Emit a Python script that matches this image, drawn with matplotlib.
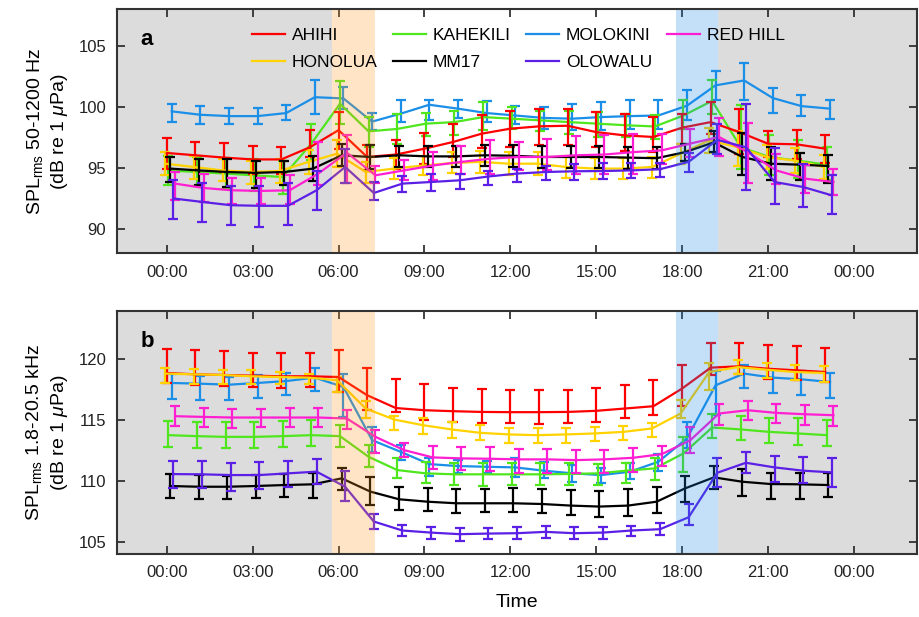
import numpy as np
import matplotlib
matplotlib.use("Agg")
import matplotlib.pyplot as plt
from matplotlib.lines import Line2D

plt.rcParams['font.family'] = ['Liberation Sans', 'DejaVu Sans']
plt.rcParams['mathtext.fontset'] = 'custom'
plt.rcParams['mathtext.rm'] = 'Liberation Sans'
plt.rcParams['mathtext.it'] = 'Liberation Sans:italic'

# ---------------- data ----------------
hours = list(range(24))
sites = ["AHIHI", "HONOLUA", "KAHEKILI", "MM17", "MOLOKINI", "OLOWALU", "RED HILL"]
xtick_labels = ["00:00", "03:00", "06:00", "09:00", "12:00", "15:00", "18:00", "21:00", "00:00"]
dawn = [5.77, 7.27]
dusk = [17.8, 19.27]

# Panel a: 50-1200 Hz  (mean, upper end of bar, lower end of bar)
a_ahihi = [96.23, 96.04, 95.85, 95.7, 95.7, 96.7, 98.1, 95.9, 96.1, 96.58, 97.13, 97.81, 98.22, 98.41, 98.46, 97.94, 97.67, 97.54, 98.3, 98.76, 97.94, 96.99, 96.94, 96.58]
a_ahihi_hi = [97.45, 97.13, 97.05, 96.77, 96.72, 98.08, 99.58, 96.85, 97.3, 97.9, 98.6, 99.3, 99.7, 99.85, 99.8, 99.6, 99.45, 99.2, 99.4, 100.4, 99.85, 98.0, 98.08, 97.73]
a_ahihi_lo = [94.94, 94.81, 94.67, 94.54, 94.54, 95.9, 96.58, 94.81, 94.95, 95.3, 95.9, 96.6, 96.7, 96.85, 96.9, 96.7, 96.4, 96.3, 97.0, 97.8, 96.17, 95.9, 95.76, 95.44]

a_honolua = [95.35, 95.08, 94.8, 94.67, 94.75, 95.5, 96.17, 94.67, 94.95, 95.2, 95.4, 95.5, 95.35, 95.35, 95.08, 94.95, 94.95, 95.08, 96.17, 97.26, 96.7, 95.9, 95.6, 95.08]
a_honolua_hi = [96.3, 96.0, 95.7, 95.6, 95.7, 96.5, 97.3, 95.5, 95.8, 96.0, 96.3, 96.4, 96.3, 96.3, 96.0, 95.8, 95.8, 95.9, 97.0, 98.3, 98.0, 96.9, 96.6, 96.1]
a_honolua_lo = [94.4, 94.1, 93.9, 93.7, 93.8, 94.5, 95.1, 93.8, 94.1, 94.4, 94.6, 94.6, 94.4, 94.4, 94.2, 94.1, 94.1, 94.2, 95.3, 96.2, 95.2, 94.9, 94.6, 94.1]

a_kahekili = [94.8, 94.67, 94.54, 94.4, 94.26, 97.0, 100.26, 98.0, 98.2, 98.63, 98.76, 99.17, 99.04, 98.9, 98.76, 98.63, 98.5, 98.4, 99.3, 100.5, 96.7, 95.9, 95.6, 95.27]
a_kahekili_hi = [96.0, 95.9, 95.8, 95.7, 95.6, 98.63, 102.09, 99.17, 99.4, 99.5, 99.7, 100.4, 100.0, 99.7, 99.7, 99.6, 99.4, 99.3, 100.6, 102.2, 100.2, 97.7, 97.3, 96.7]
a_kahekili_lo = [93.6, 93.5, 93.3, 93.1, 92.9, 95.63, 98.63, 96.72, 97.0, 97.6, 97.7, 98.1, 98.2, 98.0, 97.8, 97.5, 97.5, 97.4, 98.2, 99.4, 94.9, 94.4, 94.2, 94.0]

a_mm17 = [94.95, 94.8, 94.67, 94.6, 94.67, 94.95, 96.04, 95.9, 96.04, 95.95, 95.95, 96.04, 96.0, 95.9, 95.9, 95.9, 95.85, 95.8, 96.3, 97.1, 95.9, 95.35, 95.27, 95.16]
a_mm17_hi = [95.9, 95.75, 95.7, 95.55, 95.6, 96.0, 97.0, 96.9, 96.8, 96.8, 96.8, 96.9, 96.9, 96.8, 96.8, 96.8, 96.75, 96.7, 97.0, 98.0, 97.9, 96.7, 96.2, 96.1]
a_mm17_lo = [93.85, 93.6, 93.45, 93.35, 93.6, 93.9, 95.2, 94.9, 95.1, 95.1, 95.1, 95.2, 95.1, 95.0, 95.0, 95.0, 94.95, 94.9, 95.6, 96.3, 94.4, 94.0, 94.0, 93.8]

a_molokini = [99.64, 99.36, 99.25, 99.25, 99.5, 100.8, 100.7, 98.8, 99.45, 100.18, 99.86, 99.5, 99.3, 99.1, 99.04, 99.17, 99.25, 99.3, 100.1, 101.77, 102.17, 100.73, 100.07, 99.86]
a_molokini_hi = [100.26, 100.05, 99.9, 99.9, 100.18, 102.17, 101.63, 99.5, 100.54, 100.59, 100.54, 100.48, 100.05, 99.99, 100.21, 100.4, 100.54, 100.59, 101.35, 102.91, 103.59, 101.57, 100.95, 100.59]
a_molokini_lo = [98.76, 98.57, 98.63, 98.63, 98.9, 99.45, 99.85, 98.08, 98.76, 98.96, 99.12, 98.76, 98.57, 98.22, 98.08, 98.08, 98.22, 98.22, 98.9, 100.59, 100.54, 99.5, 99.23, 98.98]

a_olowalu = [92.5, 92.22, 91.95, 91.9, 91.9, 93.17, 95.08, 92.95, 93.72, 93.85, 93.99, 94.3, 94.54, 94.67, 94.73, 94.75, 94.8, 94.9, 95.5, 97.3, 96.7, 93.85, 93.44, 92.76]
a_olowalu_hi = [93.99, 93.77, 93.5, 93.5, 93.77, 94.75, 96.58, 93.85, 94.32, 94.54, 94.54, 94.75, 94.94, 95.16, 95.35, 95.41, 95.41, 95.41, 96.23, 98.63, 100.26, 96.64, 95.35, 94.4]
a_olowalu_lo = [90.85, 90.58, 90.31, 90.17, 90.31, 91.59, 93.77, 92.35, 93.04, 93.12, 93.31, 93.58, 93.85, 93.99, 94.04, 94.13, 94.21, 94.26, 94.67, 96.17, 93.17, 92.08, 91.81, 91.26]

a_redhill = [93.72, 93.36, 93.17, 93.12, 93.17, 94.54, 96.25, 94.4, 94.8, 95.2, 95.5, 95.76, 95.9, 95.9, 96.04, 96.1, 96.3, 96.44, 97.0, 97.54, 96.3, 94.8, 94.13, 93.85]
a_redhill_hi = [94.67, 94.48, 94.2, 94.2, 94.4, 97.13, 97.67, 95.16, 95.68, 96.31, 96.77, 97.26, 97.13, 97.4, 97.59, 97.67, 97.81, 97.81, 98.22, 99.12, 98.68, 96.12, 95.27, 94.94]
a_redhill_lo = [92.35, 92.22, 92.08, 92.08, 92.08, 93.58, 93.77, 93.77, 94.04, 93.99, 94.54, 94.54, 94.81, 94.81, 94.54, 94.54, 94.54, 95.35, 95.9, 95.95, 93.77, 93.72, 92.95, 92.76]

# Panel b: 1.8-20.5 kHz
b_ahihi = [118.88, 118.77, 118.72, 118.66, 118.61, 118.61, 118.55, 117.05, 116.0, 115.82, 115.74, 115.68, 115.66, 115.66, 115.68, 115.77, 115.96, 116.15, 117.6, 119.32, 119.43, 119.23, 119.1, 118.96]
b_ahihi_hi = [120.87, 120.74, 120.68, 120.55, 120.52, 120.52, 120.74, 119.27, 118.35, 118.01, 117.68, 117.54, 117.46, 117.51, 117.51, 117.65, 117.92, 118.33, 119.51, 121.34, 121.37, 121.15, 121.09, 120.96]
b_ahihi_lo = [118.06, 117.87, 117.8, 117.73, 117.68, 117.73, 117.3, 115.8, 115.7, 115.05, 114.86, 114.73, 114.73, 114.67, 114.73, 114.86, 115.14, 115.41, 116.15, 118.7, 118.83, 118.42, 118.28, 118.14]

b_honolua = [118.83, 118.77, 118.72, 118.61, 118.55, 118.5, 118.28, 115.96, 115.05, 114.59, 114.24, 113.96, 113.83, 113.77, 113.83, 113.91, 114.04, 114.32, 115.55, 118.96, 119.37, 119.15, 118.96, 118.88]
b_honolua_hi = [119.32, 119.24, 119.15, 119.1, 118.96, 118.83, 118.55, 116.58, 115.33, 115.14, 114.86, 114.59, 114.37, 114.32, 114.37, 114.4, 114.54, 114.78, 116.64, 119.7, 119.92, 119.7, 119.56, 119.45]
b_honolua_lo = [118.06, 118.01, 118.01, 118.01, 117.95, 118.01, 117.32, 115.22, 114.18, 113.85, 113.55, 113.36, 113.14, 113.09, 113.14, 113.28, 113.41, 113.63, 115.14, 117.46, 118.83, 118.47, 118.33, 118.14]

b_kahekili = [113.77, 113.69, 113.63, 113.63, 113.69, 113.77, 113.69, 111.99, 110.9, 110.63, 110.55, 110.55, 110.55, 110.55, 110.58, 110.63, 110.85, 111.04, 112.27, 114.4, 114.24, 114.04, 113.91, 113.77]
b_kahekili_hi = [114.95, 114.86, 114.86, 114.86, 114.95, 115.05, 114.64, 112.95, 111.86, 111.58, 111.5, 111.45, 111.45, 111.45, 111.45, 111.39, 111.5, 111.9, 113.63, 115.49, 115.33, 115.22, 115.14, 115.05]
b_kahekili_lo = [112.81, 112.73, 112.73, 112.73, 112.81, 112.87, 112.81, 111.17, 110.22, 109.81, 109.67, 109.59, 109.67, 109.67, 109.67, 109.67, 109.81, 110.1, 110.76, 113.5, 113.41, 113.09, 112.95, 112.87]

b_mm17 = [109.59, 109.53, 109.53, 109.59, 109.67, 109.73, 110.22, 109.13, 108.5, 108.3, 108.17, 108.17, 108.17, 108.11, 107.98, 107.9, 107.98, 108.3, 109.4, 110.3, 109.94, 109.75, 109.73, 109.67]
b_mm17_hi = [110.57, 110.49, 110.41, 110.49, 110.55, 110.68, 111.04, 110.3, 109.53, 109.4, 109.32, 109.32, 109.4, 109.32, 109.26, 109.21, 109.32, 109.53, 110.41, 111.23, 110.95, 110.68, 110.68, 110.63]
b_mm17_lo = [108.58, 108.5, 108.5, 108.58, 108.66, 108.58, 109.26, 108.03, 107.62, 107.57, 107.4, 107.49, 107.49, 107.4, 107.21, 107.02, 107.13, 107.35, 108.3, 109.32, 108.77, 108.5, 108.5, 108.66]

b_molokini = [118.06, 118.0, 117.92, 118.06, 118.22, 118.5, 117.73, 113.36, 112.4, 111.39, 111.23, 111.17, 111.12, 110.85, 110.63, 110.49, 110.76, 111.58, 113.5, 117.87, 118.83, 118.5, 118.36, 118.14]
b_molokini_hi = [118.83, 118.63, 118.55, 118.69, 118.88, 119.29, 118.83, 114.45, 113.0, 111.86, 111.72, 111.67, 111.86, 111.58, 111.31, 111.04, 111.45, 112.2, 114.86, 119.04, 119.51, 119.15, 119.04, 118.88]
b_molokini_lo = [116.78, 116.69, 116.69, 116.86, 117.1, 117.38, 115.27, 112.4, 111.7, 110.41, 110.63, 110.63, 110.3, 110.22, 109.94, 109.86, 110.14, 110.8, 112.68, 115.41, 117.68, 117.24, 117.05, 116.86]

b_olowalu = [110.57, 110.55, 110.49, 110.49, 110.63, 110.77, 109.53, 106.67, 105.93, 105.76, 105.63, 105.68, 105.71, 105.82, 105.71, 105.76, 105.93, 106.04, 107.02, 110.68, 111.5, 111.12, 110.85, 110.71]
b_olowalu_hi = [111.67, 111.64, 111.5, 111.53, 111.64, 111.8, 110.82, 107.3, 106.39, 106.26, 106.12, 106.17, 106.2, 106.31, 106.2, 106.2, 106.34, 106.53, 108.11, 111.86, 112.4, 112.05, 111.94, 111.86]
b_olowalu_lo = [109.4, 109.4, 109.21, 109.32, 109.53, 109.73, 108.39, 106.04, 105.44, 105.25, 105.11, 105.22, 105.22, 105.3, 105.22, 105.22, 105.44, 105.57, 106.39, 109.48, 110.63, 109.95, 109.81, 109.53]

b_redhill = [115.33, 115.27, 115.22, 115.22, 115.22, 115.22, 115.14, 113.63, 112.54, 111.94, 111.86, 111.83, 111.78, 111.78, 111.72, 111.78, 111.91, 112.21, 113.36, 115.55, 115.82, 115.6, 115.49, 115.41]
b_redhill_hi = [116.15, 116.04, 115.96, 115.96, 116.01, 116.04, 115.82, 114.18, 113.14, 112.9, 112.81, 112.76, 112.62, 112.62, 112.54, 112.54, 112.68, 112.9, 114.45, 116.31, 116.58, 116.31, 116.23, 116.17]
b_redhill_lo = [114.53, 114.45, 114.37, 114.4, 114.45, 114.45, 114.24, 112.32, 112.0, 110.96, 110.9, 110.85, 110.68, 110.68, 110.63, 110.63, 110.76, 111.2, 112.32, 114.59, 115.05, 114.81, 114.64, 114.53]

panel_a = {
    "AHIHI": (a_ahihi, a_ahihi_hi, a_ahihi_lo),
    "HONOLUA": (a_honolua, a_honolua_hi, a_honolua_lo),
    "KAHEKILI": (a_kahekili, a_kahekili_hi, a_kahekili_lo),
    "MM17": (a_mm17, a_mm17_hi, a_mm17_lo),
    "MOLOKINI": (a_molokini, a_molokini_hi, a_molokini_lo),
    "OLOWALU": (a_olowalu, a_olowalu_hi, a_olowalu_lo),
    "RED HILL": (a_redhill, a_redhill_hi, a_redhill_lo),
}
panel_b = {
    "AHIHI": (b_ahihi, b_ahihi_hi, b_ahihi_lo),
    "HONOLUA": (b_honolua, b_honolua_hi, b_honolua_lo),
    "KAHEKILI": (b_kahekili, b_kahekili_hi, b_kahekili_lo),
    "MM17": (b_mm17, b_mm17_hi, b_mm17_lo),
    "MOLOKINI": (b_molokini, b_molokini_hi, b_molokini_lo),
    "OLOWALU": (b_olowalu, b_olowalu_hi, b_olowalu_lo),
    "RED HILL": (b_redhill, b_redhill_hi, b_redhill_lo),
}

# ---------------- style ----------------
colors = {
    "AHIHI": "#FF0000",
    "HONOLUA": "#FFD200",
    "KAHEKILI": "#4FE61E",
    "MM17": "#000000",
    "MOLOKINI": "#1B8FE8",
    "OLOWALU": "#5B1FE6",
    "RED HILL": "#FF1ED2",
}
offsets = {"AHIHI": 0.0, "HONOLUA": -0.05, "KAHEKILI": 0.05, "MM17": 0.11,
           "MOLOKINI": 0.17, "OLOWALU": 0.23, "RED HILL": 0.29}
draw_order = ["MOLOKINI", "KAHEKILI", "AHIHI", "HONOLUA", "MM17", "RED HILL", "OLOWALU"]

fig = plt.figure(figsize=(9.2, 6.17), dpi=100)
ax_a = fig.add_axes([0.1275, 0.5893, 0.869, 0.3956])
ax_b = fig.add_axes([0.1275, 0.1021, 0.869, 0.3943])

XLIM = (-1.73, 26.2)

def draw_panel(ax, data, ylim, yticks, ylabel, letter):
    ax.set_xlim(*XLIM)
    ax.set_ylim(*ylim)
    gray = "#DCDCDC"
    ax.axvspan(XLIM[0], dawn[0], color=gray, lw=0, zorder=0)
    ax.axvspan(dusk[1], XLIM[1], color=gray, lw=0, zorder=0)
    ax.axvspan(dawn[0], dawn[1], color=(1.0, 0.6, 0.1), alpha=0.25, lw=0, zorder=5)
    ax.axvspan(dusk[0], dusk[1], color=(0.08, 0.52, 0.92), alpha=0.25, lw=0, zorder=5)
    h = np.array(hours, dtype=float)
    for i, name in enumerate(draw_order):
        m, hi, lo = (np.array(v, dtype=float) for v in data[name])
        yerr = np.vstack([np.clip(m - lo, 0, None), np.clip(hi - m, 0, None)])
        ax.errorbar(h + offsets[name], m, yerr=yerr, color=colors[name], lw=1.6,
                    elinewidth=1.6, capsize=3.8, capthick=1.6, zorder=2 + i * 0.1)
    ax.set_xticks(np.arange(0, 25, 3))
    ax.set_xticklabels(xtick_labels)
    ax.set_yticks(yticks)
    ax.tick_params(direction="in", length=6, width=1.2, top=True, right=True,
                   labelsize=12, colors="#222222", pad=8)
    for sp in ax.spines.values():
        sp.set_linewidth(1.5)
        sp.set_color("#333333")
        sp.set_zorder(10)
    ax.set_ylabel(ylabel, fontsize=14, labelpad=6, linespacing=1.3)
    ax.text(0.029, 0.875, letter, transform=ax.transAxes, fontsize=16,
            fontweight="bold", va="center", ha="left", zorder=11)

draw_panel(ax_a, panel_a, (88, 108), [90, 95, 100, 105],
           "SPL$_{\\rm rms}$ 50-1200 Hz\n(dB re 1 $\\mu$Pa)", "a")
draw_panel(ax_b, panel_b, (104, 124), [105, 110, 115, 120],
           "SPL$_{\\rm rms}$ 1.8-20.5 kHz\n(dB re 1 $\\mu$Pa)", "b")
ax_b.set_xlabel("Time", fontsize=14, labelpad=10)

handles = [Line2D([0], [0], color=colors[s], lw=1.6) for s in sites]
leg = ax_a.legend(handles, sites, ncol=4, loc="upper left",
                  bbox_to_anchor=(0.168, 0.925), frameon=False, fontsize=12.5,
                  handlelength=1.9, handletextpad=0.4, columnspacing=0.88,
                  labelspacing=0.68, borderpad=0.0, borderaxespad=0.0)
leg.set_zorder(12)

fig.savefig("out.png", dpi=100)
